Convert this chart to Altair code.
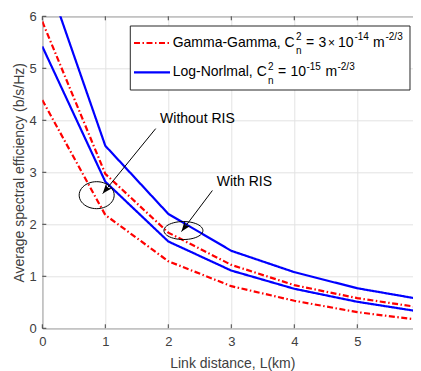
import altair as alt
import pandas as pd
import numpy as np

# ---------------- data ----------------
L_km = [0, 1, 2, 3, 4, 5, 6]
gg_with_ris = [5.90, 2.97, 1.84, 1.22, 0.83, 0.58, 0.40]
gg_without_ris = [4.39, 2.18, 1.29, 0.81, 0.53, 0.31, 0.16]
ln_with_ris = [7.00, 3.51, 2.20, 1.49, 1.08, 0.77, 0.56]
ln_without_ris = [5.42, 2.82, 1.67, 1.11, 0.76, 0.51, 0.32]
tick_values = [0, 1, 2, 3, 4, 5, 6]

series = [
    ("GG_ris", "GG", gg_with_ris),
    ("GG_noris", "GG", gg_without_ris),
    ("LN_ris", "LN", ln_with_ris),
    ("LN_noris", "LN", ln_without_ris),
]
rows = []
for name, model, vals in series:
    for x, v in zip(L_km, vals):
        rows.append({"L": x, "se": v, "model": model, "series": name})
df = pd.DataFrame(rows)

# annotations (data coordinates)
ann_text = ["Without RIS", "With RIS"]
ann_tx = [1.87, 2.77]
ann_ty = [4.02, 2.82]
ell_x = [0.863, 2.24]
ell_y = [2.56, 1.88]
arr_tail_x = [1.80, 2.70]
arr_tail_y = [3.84, 2.65]
arr_tip_x = [0.959, 2.21]
arr_tip_y = [2.59, 1.86]

W, H = 378, 312
FONT = "Liberation Sans"
GREY = "#404040"

xs = alt.Scale(domain=[0, 6], nice=False)
ys = alt.Scale(domain=[0, 6], nice=False)

x_axis = alt.Axis(values=tick_values, grid=True, gridColor="#e3e3e3", domain=False,
                  ticks=False, labelPadding=7, labelFontSize=13, labelColor=GREY,
                  labelFlush=False, labelFont=FONT, title="Link distance, L(km)",
                  titleFont=FONT, titleFontSize=14, titleFontWeight="normal",
                  titleColor=GREY, titleX=190, titleY=39.5, titleBaseline="alphabetic",
                  titleAlign="center")
y_axis = alt.Axis(values=tick_values, grid=True, gridColor="#e3e3e3", domain=False,
                  ticks=False, labelPadding=6, labelFontSize=13, labelColor=GREY,
                  labelFlush=False, labelFont=FONT,
                  title="Average spectral efficiency (b/s/Hz)",
                  titleFont=FONT, titleFontSize=14, titleFontWeight="normal",
                  titleColor=GREY, titleX=-23, titleY=156, titleAngle=270,
                  titleBaseline="middle", titleAlign="center")


def X(field):
    return alt.X(field, scale=xs, axis=x_axis)


def Y(field):
    return alt.Y(field, scale=ys, axis=y_axis)


lines = alt.Chart(df).mark_line(clip=True, strokeWidth=2.2).encode(
    x=X("L:Q"),
    y=Y("se:Q"),
    color=alt.Color("model:N", scale=alt.Scale(domain=["GG", "LN"], range=["#ff0000", "#0000ff"]), legend=None),
    strokeDash=alt.StrokeDash("model:N", scale=alt.Scale(domain=["GG", "LN"], range=[[6, 2.5, 1.5, 2.5], [1, 0]]), legend=None),
    detail="series:N",
    order="L:Q",
)

tdf = pd.DataFrame({"t": tick_values})
tick_layers = [
    alt.Chart(tdf).mark_rule(color=GREY, strokeWidth=1).encode(
        x=X("t:Q"), y=alt.value(H), y2=alt.value(H - 4)),
    alt.Chart(tdf).mark_rule(color=GREY, strokeWidth=1).encode(
        x=X("t:Q"), y=alt.value(0), y2=alt.value(4)),
    alt.Chart(tdf).mark_rule(color=GREY, strokeWidth=1).encode(
        y=Y("t:Q"), x=alt.value(0), x2=alt.value(4)),
    alt.Chart(tdf).mark_rule(color=GREY, strokeWidth=1).encode(
        y=Y("t:Q"), x=alt.value(W), x2=alt.value(W - 4)),
]

adf = pd.DataFrame({
    "text": ann_text, "tx": ann_tx, "ty": ann_ty, "ex": ell_x, "ey": ell_y,
    "ax": arr_tail_x, "ay": arr_tail_y, "bx": arr_tip_x, "by": arr_tip_y,
})


def ellipse_path(ry, n=48):
    pts = []
    for k in range(n):
        a = 2 * np.pi * k / n
        pts.append(f"{np.cos(a):.4f},{ry * np.sin(a):.4f}")
    return "M" + " L".join(pts) + " Z"


ann_layers = []
for i, (w, h) in enumerate([(35, 27), (39, 18)]):
    ann_layers.append(
        alt.Chart(adf.iloc[[i]]).mark_point(shape=ellipse_path(h / w), size=w * w, filled=False,
                                            color="black", strokeWidth=1, opacity=1).encode(
            x=X("ex:Q"), y=Y("ey:Q")))

ann_layers.append(alt.Chart(adf).mark_rule(color="black", strokeWidth=1).encode(
    x=X("ax:Q"), y=Y("ay:Q"), x2="bx:Q", y2="by:Q"))

head = "M0,0 L0.38,1 L0,0.72 L-0.38,1 Z"
for i, ang in enumerate([219.2, 216.7]):
    ann_layers.append(
        alt.Chart(adf.iloc[[i]]).mark_point(shape=head, size=400, filled=True, color="black",
                                            angle=ang, opacity=1, strokeWidth=0).encode(
            x=X("bx:Q"), y=Y("by:Q")))

ann_layers.append(alt.Chart(adf).mark_text(align="left", baseline="middle", fontSize=14,
                                           font=FONT, color="black").encode(
    x=X("tx:Q"), y=Y("ty:Q"), text="text:N"))

# ---------------- legend (drawn by hand, MATLAB style) ----------------
one = pd.DataFrame({"k": [0]})


def txt(s, x, y, size=14):
    return alt.Chart(one).mark_text(text=s, align="left", baseline="alphabetic", fontSize=size,
                                    font=FONT, color="black").encode(x=alt.value(x), y=alt.value(y))


legend_layers = [
    alt.Chart(one).mark_rect(fill="white", stroke="#262626", strokeWidth=1).encode(
        x=alt.value(88), x2=alt.value(367.7), y=alt.value(9.7), y2=alt.value(73.7)),
    alt.Chart(one).mark_rule(color="#ff0000", strokeWidth=2.2, strokeDash=[6, 2.5, 1.5, 2.5]).encode(
        x=alt.value(91.7), x2=alt.value(127.7), y=alt.value(26.7)),
    alt.Chart(one).mark_rule(color="#0000ff", strokeWidth=2.2).encode(
        x=alt.value(91.7), x2=alt.value(127.7), y=alt.value(56)),
    # row 1
    txt("Gamma-Gamma, C", 130.4, 30.2),
    txt("2", 253.7, 23.7, 10),
    txt("n", 253.7, 37.5, 10),
    txt("=", 263.7, 30.2),
    txt("3", 276.2, 30.2),
    txt("×", 285.7, 30.2, 12),
    txt("10", 295.7, 30.2),
    txt("-14", 312.2, 23.7, 10),
    txt("m", 330.7, 30.2),
    txt("-2/3", 343.2, 23.7, 10),
    # row 2
    txt("Log-Norlmal, C", 130.4, 60.0),
    txt("2", 225.7, 53.5, 10),
    txt("n", 225.7, 67.3, 10),
    txt("=", 235.7, 60.0),
    txt("10", 248.2, 60.0),
    txt("-15", 264.2, 53.5, 10),
    txt("m", 283.2, 60.0),
    txt("-2/3", 295.2, 53.5, 10),
]

chart = alt.layer(lines, *tick_layers, *ann_layers, *legend_layers).properties(
    width=W, height=H,
    autosize=alt.AutoSizeParams(type="none"),
    padding={"left": 34.3, "top": 8.3, "right": -7.6, "bottom": 42.5},
).configure(font=FONT, view=alt.ViewConfig(stroke=GREY, strokeWidth=1))

chart.save("out.html", embed_options={"renderer": "svg", "actions": False})
